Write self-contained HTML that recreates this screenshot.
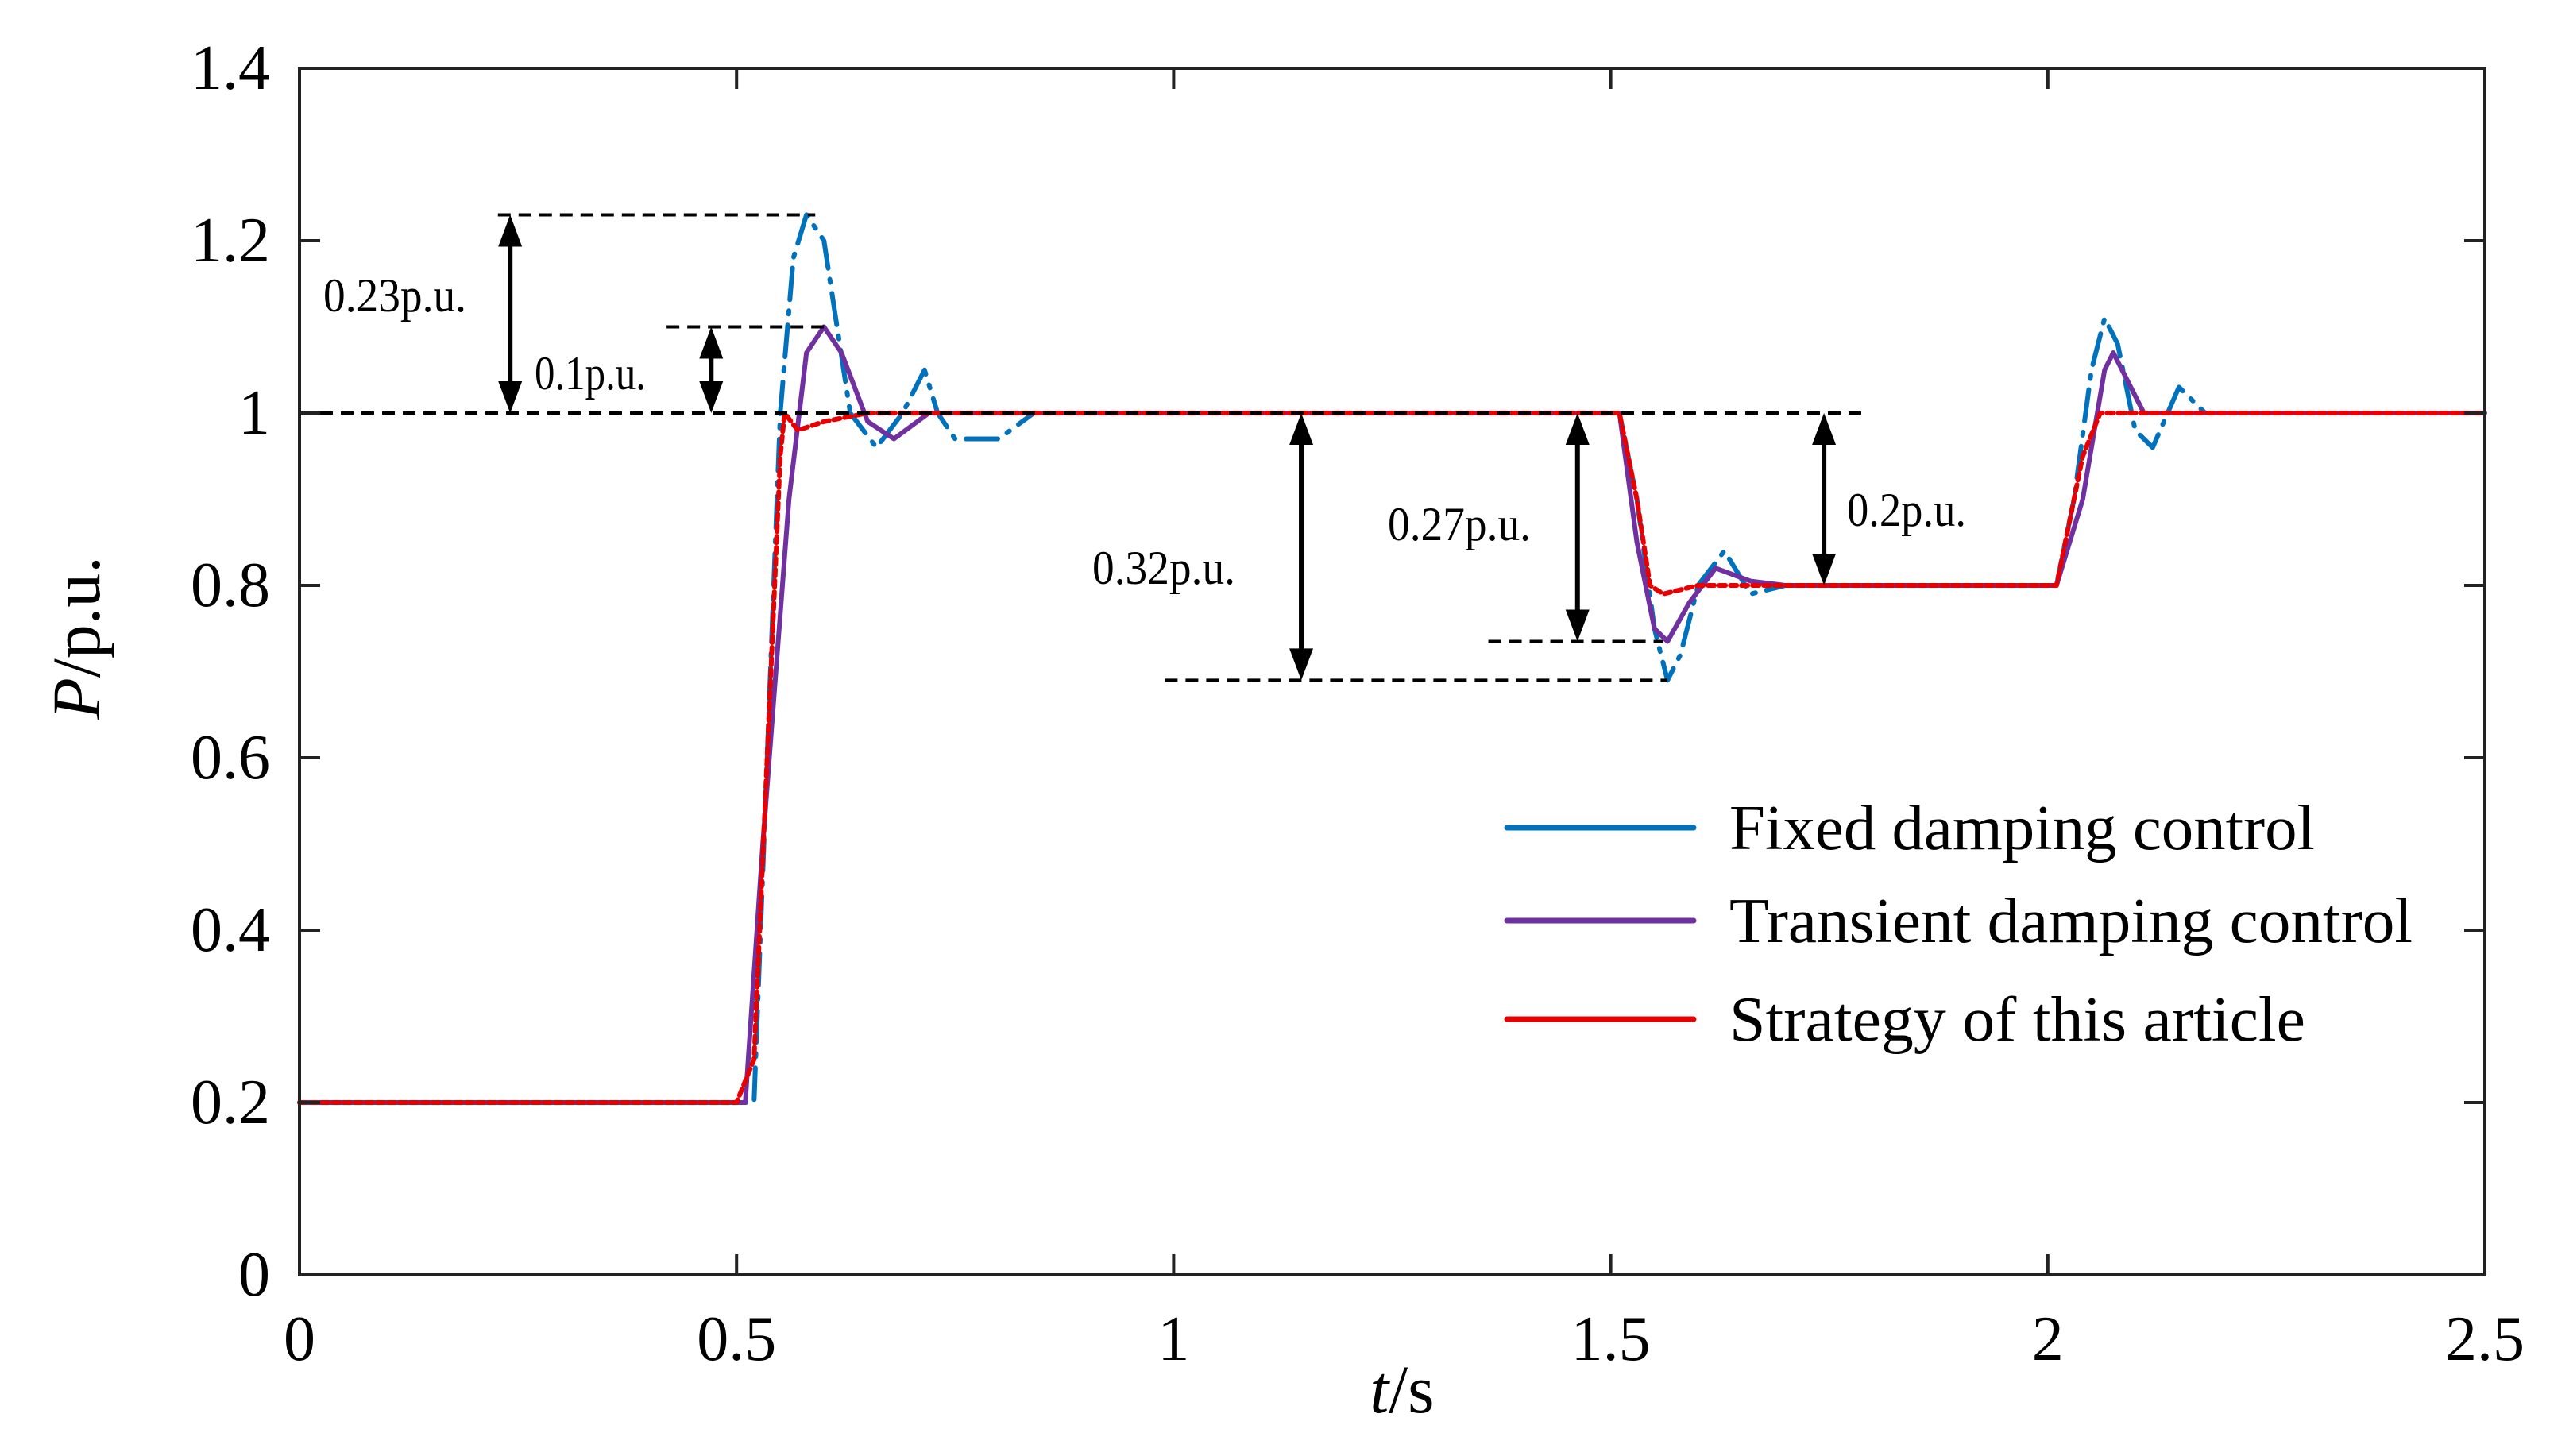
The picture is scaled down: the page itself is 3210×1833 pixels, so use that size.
<!DOCTYPE html>
<html><head><meta charset="utf-8">
<style>html,body{margin:0;padding:0;background:#fff;}svg{display:block;}text{font-family:"Liberation Serif",serif;fill:#000;}</style>
</head><body>
<svg id="chart" width="3210" height="1833" viewBox="0 0 3210 1833" xmlns="http://www.w3.org/2000/svg">
<g id="plot"></g>
</svg>
<script>
const xTicks = [0, 0.5, 1, 1.5, 2, 2.5];
const xTickLabels = ["0", "0.5", "1", "1.5", "2", "2.5"];
const yTicks = [0, 0.2, 0.4, 0.6, 0.8, 1, 1.2, 1.4];
const yTickLabels = ["0", "0.2", "0.4", "0.6", "0.8", "1", "1.2", "1.4"];
const fixedT = [0,0.5,0.52,0.535,0.55,0.565,0.58,0.6,0.615,0.63,0.66,0.69,0.715,0.73,0.75,0.8,0.84,1.51,1.53,1.55,1.565,1.58,1.6,1.63,1.66,1.7,2.01,2.03,2.05,2.065,2.08,2.1,2.12,2.15,2.18,2.5];
const fixedP = [0.2,0.2,0.2,0.6,1.0,1.18,1.23,1.2,1.1,1.0,0.96,1.0,1.05,1.0,0.97,0.97,1.0,1.0,0.9,0.75,0.69,0.72,0.8,0.84,0.79,0.8,0.8,0.9,1.05,1.11,1.08,0.98,0.96,1.03,1.0,1.0];
const transT = [0,0.51,0.53,0.56,0.58,0.6,0.62,0.65,0.68,0.72,1.51,1.53,1.55,1.565,1.59,1.62,1.66,1.7,2.01,2.04,2.065,2.075,2.09,2.11,2.5];
const transP = [0.2,0.2,0.5,0.9,1.07,1.1,1.07,0.99,0.97,1.0,1.0,0.85,0.75,0.735,0.78,0.82,0.805,0.8,0.8,0.9,1.05,1.07,1.04,1.0,1.0];
const stratT = [0,0.5,0.52,0.55,0.555,0.57,0.6,0.65,1.51,1.53,1.545,1.56,1.6,2.01,2.04,2.06,2.5];
const stratP = [0.2,0.2,0.25,0.95,1.0,0.98,0.99,1.0,1.0,0.9,0.8,0.79,0.8,0.8,0.95,1.0,1.0];
const legendLabels = ["Fixed damping control","Transient damping control","Strategy of this article"];

const NS="http://www.w3.org/2000/svg";
const L=377,R=3128,T=86,B=1605;
const xs=t=>L+(t/2.5)*(R-L);
const ys=v=>B-(v/1.4)*(B-T);
const g=document.getElementById('plot');
function mk(tag,attrs,parent){const e=document.createElementNS(NS,tag);for(const k in attrs)e.setAttribute(k,attrs[k]);(parent||g).appendChild(e);return e;}

function series(ts,ps,color,dash,name){
  const d=ts.map((t,i)=>(i?'L':'M')+xs(t).toFixed(1)+','+ys(ps[i]).toFixed(1)).join(' ');
  const p=mk('path',{d:d,fill:'none',stroke:color,'stroke-width':6,'stroke-linejoin':'round','stroke-linecap':'round'});
  if(dash)p.setAttribute('stroke-dasharray',dash);
  
  
}
series(fixedT,fixedP,'#0072BD','40,14,4,14','fixed-damping-line');
series(transT,transP,'#7030A0',null,'transient-damping-line');
series(stratT,stratP,'#E80000','8,6','strategy-line');

const dashLines=[[0.227,0.59,1.23],[0.42,0.6,1.1],[0,1.787,1.0],[0.99,1.565,0.69],[1.36,1.56,0.735]];
dashLines.forEach(a=>{const l=mk('line',{x1:xs(a[0]),x2:xs(a[1]),y1:ys(a[2]),y2:ys(a[2]),stroke:'#000','stroke-width':4,'stroke-dasharray':'16,10'});

});
const arrows=[[0.241,1.0,1.23],[0.471,1.0,1.1],[1.146,1.0,0.69],[1.462,1.0,0.735],[1.744,1.0,0.8]];
arrows.forEach(a=>{
  const x=xs(a[0]),y1=ys(a[1]),y2=ys(a[2]);
  const s=Math.sign(y2-y1);
  const gg=mk('g',{});
  
  
  mk('line',{x1:x,x2:x,y1:y1+s*30,y2:y2-s*30,stroke:'#000','stroke-width':6},gg);
  mk('polygon',{points:`${x},${y1} ${x-15},${y1+s*40} ${x+15},${y1+s*40}`,fill:'#000'},gg);
  mk('polygon',{points:`${x},${y2} ${x-15},${y2-s*40} ${x+15},${y2-s*40}`,fill:'#000'},gg);
});
const annots=[["0.23p.u.",407,392,180],["0.1p.u.",673,490,140],["0.32p.u.",1375,735,180],["0.27p.u.",1747,680,180],["0.2p.u.",2325,662,150]];
annots.forEach(a=>{const t=mk('text',{x:a[1],y:a[2],'font-size':60,textLength:a[3],lengthAdjust:'spacingAndGlyphs'});t.textContent=a[0];

});

const box=mk('rect',{x:L,y:T,width:R-L,height:B-T,fill:'none',stroke:'#222','stroke-width':4});


xTicks.forEach((v,i)=>{
  mk('line',{x1:xs(v),x2:xs(v),y1:B,y2:B-26,stroke:'#222','stroke-width':4});
  mk('line',{x1:xs(v),x2:xs(v),y1:T,y2:T+26,stroke:'#222','stroke-width':4});
  const t=mk('text',{x:xs(v),y:1712,'font-size':80,'text-anchor':'middle'});t.textContent=xTickLabels[i];
  
  
});
yTicks.forEach((v,i)=>{
  mk('line',{x1:L,x2:L+26,y1:ys(v),y2:ys(v),stroke:'#222','stroke-width':4});
  mk('line',{x1:R,x2:R-26,y1:ys(v),y2:ys(v),stroke:'#222','stroke-width':4});
  const t=mk('text',{x:340,y:ys(v)+26,'font-size':80,'text-anchor':'end'});t.textContent=yTickLabels[i];
  
  
});
const xt=mk('text',{x:1765,y:1778,'font-size':86,'text-anchor':'middle'});
xt.innerHTML='<tspan font-style="italic">t</tspan>/s';


const yt=mk('text',{x:0,y:0,'font-size':86,'text-anchor':'middle',transform:'translate(125,803) rotate(-90)'});
yt.innerHTML='<tspan font-style="italic">P</tspan>/p.u.';



const legColors=['#0072BD','#7030A0','#E80000'];
const legY=[1042,1159,1283];
const legW=[737,860,725];
legendLabels.forEach((s,i)=>{
  const gg=mk('g',{});
  
  
  mk('line',{x1:1897,x2:2132,y1:legY[i],y2:legY[i],stroke:legColors[i],'stroke-width':7,'stroke-linecap':'round'},gg);
  const t=mk('text',{x:2177,y:legY[i]+27,'font-size':80,textLength:legW[i],lengthAdjust:'spacingAndGlyphs'},gg);t.textContent=s;
});
</script>
</body></html>
